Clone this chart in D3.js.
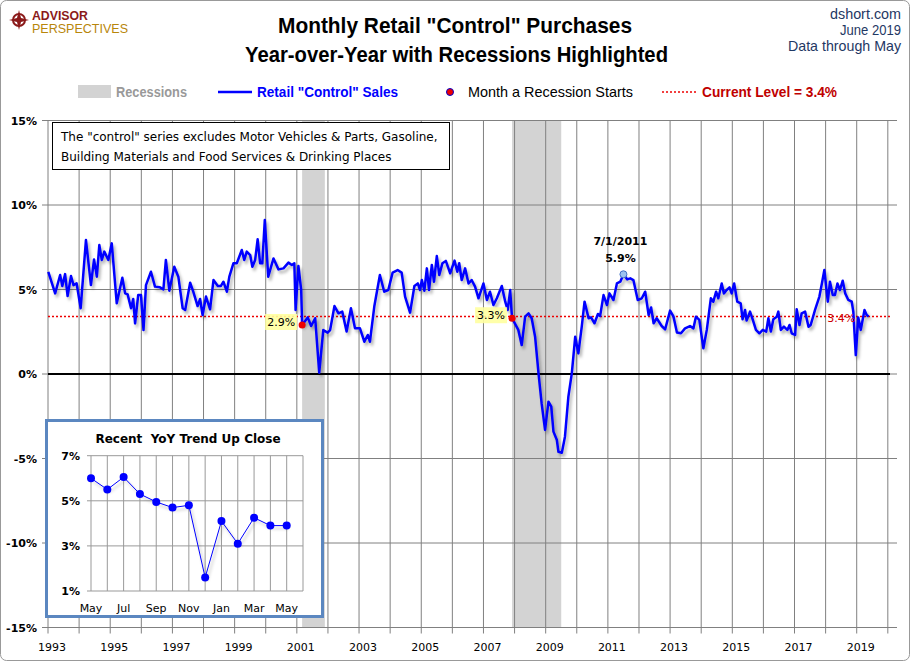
<!DOCTYPE html>
<html><head><meta charset="utf-8">
<script src="https://cdn.jsdelivr.net/npm/d3@7"></script>
<style>body{margin:0;background:#fff}svg{display:block}</style>
</head><body>
<svg id="c" width="910" height="661"></svg>
<script>
// decimal year, YoY %
const dates = [1993.01,1993.23,1993.39,1993.46,1993.55,1993.63,1993.74,1993.82,1993.92,1994.05,1994.22,1994.38,1994.48,1994.57,1994.65,1994.73,1994.81,1994.94,1995.05,1995.21,1995.39,1995.48,1995.56,1995.67,1995.74,1995.80,1995.90,1995.99,1996.07,1996.15,1996.31,1996.44,1996.60,1996.71,1996.79,1996.90,1997.06,1997.19,1997.33,1997.41,1997.57,1997.67,1997.81,1997.89,1997.97,1998.08,1998.21,1998.32,1998.46,1998.56,1998.64,1998.75,1998.83,1998.96,1999.07,1999.23,1999.31,1999.39,1999.50,1999.57,1999.66,1999.74,1999.82,1999.89,1999.97,
2000.08,2000.25,2000.41,2000.57,2000.73,2000.84,2000.92,2000.96,2001.05,2001.14,2001.17,2001.35,2001.46,2001.59,2001.72,2001.85,2001.99,2002.07,2002.21,2002.34,2002.46,2002.60,2002.74,2002.87,2003.03,2003.17,2003.28,2003.35,2003.49,2003.67,2003.81,2003.94,2004.08,2004.24,2004.37,2004.48,2004.64,2004.78,2004.89,2004.96,2005.02,2005.10,2005.18,2005.25,2005.34,2005.41,2005.50,2005.58,2005.68,2005.79,2005.93,2006.07,2006.16,2006.22,2006.30,2006.41,2006.52,2006.62,2006.73,2006.84,2007.00,2007.11,2007.21,2007.32,2007.43,2007.59,2007.70,2007.78,2007.86,2007.90,2007.92,
2008.12,2008.23,2008.34,2008.45,2008.55,2008.66,2008.77,2008.87,2008.98,2009.09,2009.18,2009.25,2009.36,2009.41,2009.52,2009.62,2009.73,2009.84,2009.95,2010.05,2010.16,2010.25,2010.38,2010.46,2010.57,2010.68,2010.75,2010.86,2010.97,2011.05,2011.18,2011.29,2011.40,2011.50,2011.62,2011.72,2011.82,2011.96,2012.09,2012.20,2012.31,2012.39,2012.47,2012.57,2012.73,2012.84,2013.00,2013.11,2013.22,2013.35,2013.48,2013.64,2013.75,2013.83,2013.94,2014.07,2014.18,2014.31,2014.39,2014.48,2014.55,2014.66,2014.73,2014.82,2014.91,2014.98,2015.06,2015.16,2015.27,2015.33,2015.41,2015.46,2015.57,2015.66,2015.76,2015.87,2015.98,2016.09,2016.16,2016.24,2016.32,2016.43,2016.48,2016.56,2016.66,2016.77,2016.84,2016.91,2017.02,2017.07,2017.16,2017.23,2017.34,2017.45,2017.52,2017.66,2017.80,2017.88,2017.96,2018.07,2018.14,2018.23,2018.30,2018.38,2018.46,2018.55,2018.63,2018.73,2018.84,2018.89,2018.97,2019.05,2019.13,2019.25,2019.32,2019.38];
const values = [6.05,4.77,5.86,5.21,5.91,4.61,5.80,5.26,5.36,3.89,7.93,5.26,6.78,5.76,7.63,6.75,7.24,6.75,7.73,4.18,5.70,4.77,4.71,3.89,4.44,2.99,4.67,4.67,2.60,5.26,6.05,5.17,5.13,5.01,6.75,4.93,6.35,5.76,3.89,3.79,5.40,4.87,4.02,4.44,3.49,4.58,3.83,5.56,5.21,5.21,5.46,4.87,5.76,6.55,6.55,7.34,6.75,7.24,7.04,6.35,6.75,7.97,6.55,6.55,9.11,
5.76,6.84,6.19,6.25,6.59,6.45,6.55,3.79,6.39,4.97,2.90,3.35,2.84,3.30,0.08,2.60,2.45,2.60,4.02,3.59,3.69,2.51,3.89,2.70,2.70,1.91,2.31,1.91,3.99,5.86,4.87,4.97,6.00,6.15,6.00,4.58,3.63,5.21,5.36,4.97,5.56,4.93,6.25,4.97,6.45,5.46,6.98,5.86,6.55,6.69,5.96,6.71,6.05,6.55,5.56,6.25,5.36,5.56,5.17,4.48,5.36,4.38,4.87,4.08,4.48,5.21,4.28,3.79,4.97,3.79,3.30,
2.61,1.71,3.39,3.59,3.30,2.21,0.04,-1.74,-3.31,-1.64,-1.93,-3.41,-3.91,-4.60,-4.66,-3.71,-1.34,0.04,2.21,1.22,2.80,4.28,3.30,3.35,3.00,3.55,3.43,4.67,4.08,4.77,4.38,5.36,5.46,5.90,5.60,5.66,5.56,4.38,4.48,4.87,3.49,3.94,3.00,3.30,2.84,2.64,3.75,3.39,2.45,2.41,2.70,2.84,2.70,3.39,3.20,1.52,2.61,4.48,4.28,4.87,4.48,5.36,4.77,4.97,5.13,4.77,5.36,4.28,4.18,3.24,3.79,3.16,3.69,3.20,2.61,2.41,2.61,2.51,3.30,2.51,3.24,3.39,3.69,2.61,2.80,2.61,2.90,2.41,2.31,3.83,2.90,3.59,3.69,2.80,2.90,3.79,4.58,5.36,6.15,4.28,5.46,4.67,4.67,5.36,4.97,5.52,4.77,4.38,4.28,3.69,1.12,3.35,2.61,3.79,3.49,3.40];
const recessions = [[2001.17,2001.90],[2007.92,2009.50]];
const recessionStarts = [{t:2001.17,v:2.9,label:"2.9%"},{t:2007.92,v:3.3,label:"3.3%"}];
const peak = {t:2011.50,v:5.9,date:"7/1/2011"};
const currentLevel = 3.4;
const yTicks = [15,10,5,0,-5,-10,-15];
const xTickYears = d3.range(1993,2020,2);
const insetMonths = ["May","Jun","Jul","Aug","Sep","Oct","Nov","Dec","Jan","Feb","Mar","Apr","May"];
const insetValues = [6.0,5.5,6.05,5.3,4.95,4.7,4.8,1.6,4.1,3.1,4.25,3.9,3.9];
const insetTicks = [7,5,3,1];

const svg = d3.select("#c");
const font = "'Liberation Sans',Arial,sans-serif";
const tah = "Tahoma,'DejaVu Sans',Verdana,sans-serif";
function txt(sel,s,xp,yp,len,opts){
  const t=sel.append("text").attr("x",xp).attr("y",yp).attr("font-family",font).text(s);
  if(len) t.attr("textLength",len).attr("lengthAdjust","spacingAndGlyphs");
  Object.entries(opts||{}).forEach(([k,v])=>t.attr(k,v));
  return t;
}
const defs = svg.append("defs");
const f = defs.append("filter").attr("id","sh").attr("x","-5%").attr("y","-5%").attr("width","110%").attr("height","120%");
f.append("feDropShadow").attr("dx",2).attr("dy",3).attr("stdDeviation",1.5).attr("flood-color","#000").attr("flood-opacity",0.3);

svg.append("rect").attr("x",0.5).attr("y",0.5).attr("width",909).attr("height",660).attr("rx",6).attr("fill","#fff").attr("stroke","#999");

const x = d3.scaleLinear().domain([1993,2020.07]).range([48,890]);
const y = d3.scaleLinear().domain([-15,15]).range([627.5,120.5]);

svg.selectAll(".rec").data(recessions).join("rect").attr("x",d=>x(d[0])).attr("width",d=>x(d[1])-x(d[0]))
  .attr("y",y(15)).attr("height",y(-15)-y(15)).attr("fill","#d3d3d3");

svg.append("g").selectAll("line").data(d3.range(1993,2021)).join("line")
  .attr("x1",d=>x(d)).attr("x2",d=>x(d)).attr("y1",y(15)).attr("y2",y(-15)+6).attr("stroke","#808080");
svg.append("g").selectAll("line").data(yTicks).join("line")
  .attr("x1",x(1993)-6).attr("x2",897).attr("y1",d=>y(d)).attr("y2",d=>y(d)).attr("stroke","#808080");
svg.append("line").attr("x1",x(1993)).attr("x2",890).attr("y1",y(0)).attr("y2",y(0)).attr("stroke","#000").attr("stroke-width",2);

svg.append("g").selectAll("text").data(yTicks).join("text").attr("x",37).attr("y",d=>y(d)+4).attr("text-anchor","end")
  .attr("font-family",tah).attr("font-size",11).attr("font-weight","bold").text(d=>d+"%");
svg.append("g").selectAll("text").data(xTickYears).join("text").attr("x",d=>x(d)+4).attr("y",651).attr("text-anchor","middle")
  .attr("font-family",tah).attr("font-size",11).text(d=>d);

svg.append("line").attr("x1",x(1993)).attr("x2",890).attr("y1",y(currentLevel)).attr("y2",y(currentLevel))
  .attr("stroke","#e00").attr("stroke-width",1.5).attr("stroke-dasharray","2,2");

const data = dates.map((t,i)=>({t,v:values[i]}));
svg.append("path").datum(data).attr("fill","none").attr("stroke","#0000ff").attr("stroke-width",2.5).attr("stroke-linejoin","round")
  .attr("filter","url(#sh)").attr("d",d3.line().x(d=>x(d.t)).y(d=>y(d.v)));

recessionStarts.forEach(r=>{
  const g=svg.append("g");
  g.append("rect").attr("x",x(r.t)-37).attr("y",y(r.v)-11).attr("width",32).attr("height",16).attr("fill","#ffffa0").attr("opacity",0.9);
  g.append("text").attr("x",x(r.t)-21).attr("y",y(r.v)+1).attr("text-anchor","middle").attr("font-family",tah).attr("font-size",11).text(r.label);
  g.append("circle").attr("cx",x(r.t)).attr("cy",y(r.v)).attr("r",3.5).attr("fill","#e00");
});
svg.append("circle").attr("cx",x(peak.t)).attr("cy",y(peak.v)).attr("r",3.5).attr("fill","#9cc3f0").attr("stroke","#4472c4");
svg.append("text").attr("x",x(peak.t)-3).attr("y",y(peak.v)-29).attr("text-anchor","middle").attr("font-family",tah).attr("font-size",11).attr("font-weight","bold").text(peak.date);
svg.append("text").attr("x",x(peak.t)-3).attr("y",y(peak.v)-12).attr("text-anchor","middle").attr("font-family",tah).attr("font-size",11).attr("font-weight","bold").text(peak.v.toFixed(1)+"%");
svg.append("text").attr("x",x(2018.5)).attr("y",y(currentLevel)+5).attr("text-anchor","middle").attr("font-family",tah).attr("font-size",11).attr("fill","#c00").text(currentLevel.toFixed(1)+"%");

svg.append("rect").attr("x",52.5).attr("y",122.5).attr("width",397).attr("height",47).attr("fill","#fff").attr("stroke","#000");
svg.append("text").attr("x",61).attr("y",141).attr("font-family",tah).attr("font-size",12).text('The "control" series excludes Motor Vehicles & Parts, Gasoline,');
svg.append("text").attr("x",61).attr("y",161).attr("font-family",tah).attr("font-size",12).text('Building Materials and Food Services & Drinking Places');

txt(svg,'Monthly Retail "Control" Purchases',278,33,354,{"font-weight":"bold","font-size":22});
txt(svg,'Year-over-Year with Recessions Highlighted',245,62,423,{"font-weight":"bold","font-size":22});
[["dshort.com",830],["June 2019",840],["Data through May",788]].forEach(([s,x0],i)=>txt(svg,s,x0,19+i*16,901-x0,{"font-size":15,fill:"#1f3864"}));

const lg=svg.append("g");
lg.append("circle").attr("cx",19).attr("cy",20).attr("r",6).attr("fill","none").attr("stroke","#8b1a1a").attr("stroke-width",2);
lg.append("path").attr("d","M19,10 L21,18 L29,20 L21,22 L19,30 L17,22 L9,20 L17,18Z").attr("fill","#8b1a1a");
txt(lg,"ADVISOR",32,20,56,{"font-weight":"bold","font-size":12,fill:"#8b1a1a"});
txt(lg,"PERSPECTIVES",32,33,96,{"font-size":12,fill:"#b8860b"});

const ly=92;
svg.append("rect").attr("x",78).attr("y",ly-7).attr("width",33).attr("height",13).attr("fill","#d3d3d3");
txt(svg,"Recessions",116,ly+5,71,{"font-weight":"bold","font-size":14,fill:"#999"});
svg.append("line").attr("x1",218).attr("x2",252).attr("y1",ly).attr("y2",ly).attr("stroke","#0000ff").attr("stroke-width",2.5);
txt(svg,'Retail "Control" Sales',257,ly+5,141,{"font-weight":"bold","font-size":14,fill:"#0000ff"});
svg.append("circle").attr("cx",450).attr("cy",ly).attr("r",3.5).attr("fill","#e00").attr("stroke","#00c");
txt(svg,"Month a Recession Starts",468,ly+5,165,{"font-size":15});
svg.append("line").attr("x1",662).attr("x2",698).attr("y1",ly).attr("y2",ly).attr("stroke","#e00").attr("stroke-width",1.5).attr("stroke-dasharray","2,2");
txt(svg,"Current Level = 3.4%",702,ly+5,135,{"font-weight":"bold","font-size":14,fill:"#c00000"});

svg.append("rect").attr("x",46.5).attr("y",420.5).attr("width",276).attr("height",196).attr("fill","#fff").attr("stroke","#5b87c0").attr("stroke-width",3);
svg.append("text").attr("x",188).attr("y",443).attr("text-anchor","middle").attr("font-family",tah).attr("font-size",12).attr("font-weight","bold").attr("xml:space","preserve").text("Recent  YoY Trend Up Close");
const ix=d3.scaleLinear().domain([0,13]).range([91,303]);
const iy=d3.scaleLinear().domain([1,7]).range([591,455.7]);
svg.append("g").selectAll("line").data(d3.range(0,14)).join("line").attr("x1",d=>ix(d)).attr("x2",d=>ix(d)).attr("y1",iy(7)).attr("y2",iy(1)).attr("stroke","#999");
svg.append("g").selectAll("line").data([7,5,3,1]).join("line").attr("x1",ix(0)-4).attr("x2",ix(13)).attr("y1",d=>iy(d)).attr("y2",d=>iy(d)).attr("stroke","#999");
svg.append("g").selectAll("text").data(insetTicks).join("text").attr("x",80).attr("y",d=>iy(d)+4).attr("text-anchor","end").attr("font-family",tah).attr("font-size",11).attr("font-weight","bold").text(d=>d+"%");
svg.append("g").selectAll("text").data(insetMonths.map((m,i)=>({m,i})).filter(d=>d.i%2===0)).join("text").attr("x",d=>ix(d.i)).attr("y",612).attr("text-anchor","middle").attr("font-family",tah).attr("font-size",11).text(d=>d.m);
svg.append("path").datum(insetValues).attr("fill","none").attr("stroke","#0000ff").attr("stroke-width",1).attr("filter","url(#sh)").attr("d",d3.line().x((d,i)=>ix(i)).y(d=>iy(d)));
svg.append("g").selectAll("circle").data(insetValues).join("circle").attr("cx",(d,i)=>ix(i)).attr("cy",d=>iy(d)).attr("r",4).attr("fill","#0000ff");
</script></body></html>
